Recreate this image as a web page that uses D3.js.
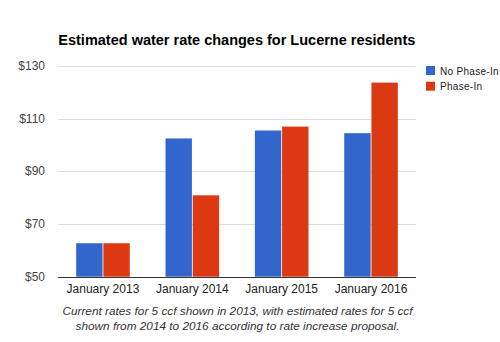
<!DOCTYPE html>
<html><head><meta charset="utf-8">
<script src="https://cdn.jsdelivr.net/npm/d3@7"></script>
<style>body{margin:0;background:#fff}svg{display:block}</style>
</head><body>
<script>
const categories = ["January 2013","January 2014","January 2015","January 2016"];
const seriesNames = ["No Phase-In","Phase-In"];
const noPhaseIn = [62.7, 102.5, 105.5, 104.5];
const phaseIn = [62.7, 80.9, 107.0, 123.7];
const yTicks = [50,70,90,110,130];
const title = "Estimated water rate changes for Lucerne residents";
const caption = ["Current rates for 5 ccf shown in 2013, with estimated rates for 5 ccf","shown from 2014 to 2016 according to rate increase proposal."];
const colors = ["#3366cc","#dc3912"];

const W=500,H=342;
const svg=d3.select("body").append("svg").attr("width",W).attr("height",H);
const L=58.3,R=415.7,T=66,B=276.7;
const y=d3.scaleLinear().domain([50,130]).range([B,T]);
const x0=d3.scaleBand().domain(categories).range([L,R]).paddingInner(0.4).paddingOuter(0.2);
const x1=d3.scaleBand().domain(seriesNames).range([0,x0.bandwidth()]).paddingInner(0.03);
const font="Arial, 'Liberation Sans', sans-serif";

svg.append("text").attr("x",L).attr("y",45).attr("font-family",font).attr("font-weight","bold")
  .attr("font-size",14.5).attr("fill","#000").text(title);

const g=svg.append("g");
g.selectAll("line.grid").data(yTicks).join("line").attr("class","grid")
  .attr("x1",L).attr("x2",R).attr("y1",d=>Math.round(y(d))+0.5).attr("y2",d=>Math.round(y(d))+0.5)
  .attr("stroke",d=>d===50?"#333":"#ddd").attr("stroke-width",1);
g.selectAll("text.yl").data(yTicks).join("text").attr("class","yl")
  .attr("x",45).attr("y",d=>y(d)+4).attr("text-anchor","end").attr("font-family",font)
  .attr("font-size",12).attr("fill","#444").text(d=>"$"+d);

const data=categories.map((c,i)=>({c,vals:[noPhaseIn[i],phaseIn[i]]}));
const grp=g.selectAll("g.c").data(data).join("g").attr("transform",d=>`translate(${x0(d.c)},0)`);
grp.selectAll("rect").data(d=>d.vals.map((v,j)=>({v,s:seriesNames[j],j}))).join("rect")
  .attr("x",d=>x1(d.s)).attr("width",x1.bandwidth())
  .attr("y",d=>y(d.v)).attr("height",d=>y(50)-y(d.v)).attr("fill",d=>colors[d.j]);
g.append("line").attr("x1",L).attr("x2",R).attr("y1",Math.round(y(50))+0.5).attr("y2",Math.round(y(50))+0.5).attr("stroke","#333");

g.selectAll("text.xl").data(categories).join("text").attr("class","xl")
  .attr("x",d=>x0(d)+x0.bandwidth()/2).attr("y",293).attr("text-anchor","middle")
  .attr("font-family",font).attr("font-size",12).attr("fill","#222").text(d=>d);

const leg=svg.append("g");
seriesNames.forEach((s,i)=>{
  leg.append("rect").attr("x",426).attr("y",66+i*15.7).attr("width",9).attr("height",9).attr("fill",colors[i]);
  leg.append("text").attr("x",440).attr("y",74.5+i*15.7).attr("font-family",font).attr("font-size",10)
    .attr("letter-spacing","0.3px").attr("fill","#222").text(s);
});

caption.forEach((t,i)=>{
  svg.append("text").attr("x",237.5).attr("y",315+i*14.5).attr("text-anchor","middle")
    .attr("font-family",font).attr("font-style","italic").attr("font-size",11.8).attr("fill","#333").text(t);
});
</script>
</body></html>
